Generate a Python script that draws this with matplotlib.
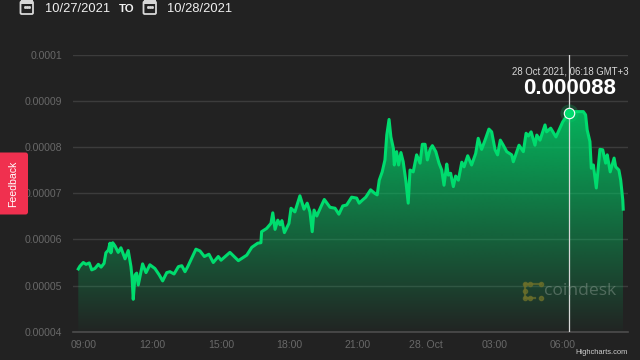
import numpy as np
import matplotlib
matplotlib.use("Agg")
import matplotlib.pyplot as plt
from matplotlib.patches import FancyBboxPatch, Rectangle
from matplotlib.colors import LinearSegmentedColormap

plt.rcParams['font.family'] = ['Liberation Sans', 'DejaVu Sans']

# hours after 09:00 on 27 Oct 2021
hours = [-0.25,-0.18,-0.03,0.09,0.23,0.34,0.48,0.63,0.75,0.88,0.96,1.07,1.14,1.18,1.26,1.36,1.50,1.62,1.80,1.94,
 2.06,2.11,2.16,2.24,2.31,2.38,2.57,2.72,2.89,3.11,3.30,3.45,3.63,3.77,3.95,4.14,4.29,4.43,4.55,4.72,
 4.91,5.09,5.28,5.48,5.67,5.89,6.01,6.40,6.77,7.14,7.36,7.62,7.76,7.79,8.01,8.20,8.28,8.38,8.50,8.60,
 8.68,8.79,8.99,9.08,9.25,9.47,9.65,9.79,9.91,10.01,10.09,10.21,10.38,10.54,10.79,11.01,11.18,11.35,11.52,11.74,
 11.96,12.07,12.22,12.36,12.57,12.76,12.86,12.95,13.08,13.20,13.28,13.38,13.46,13.57,13.61,13.71,13.80,13.90,14.00,14.12,
 14.22,14.30,14.44,14.59,14.74,14.84,14.96,15.06,15.18,15.28,15.43,15.57,15.69,15.79,15.91,15.98,16.08,16.20,16.30,16.42,
 16.57,16.67,16.83,17.00,17.18,17.29,17.44,17.59,17.76,17.88,18.03,18.14,18.26,18.39,18.54,18.76,18.83,19.08,19.27,19.39,
 19.49,19.61,19.78,19.86,20.00,20.22,20.29,20.47,20.70,21.00,21.10,21.27,21.40,21.54,21.75,21.90,22.00,22.07,22.19,22.25,
 22.34,22.47,22.63,22.75,22.88,22.95,23.08,23.25,23.32,23.46,23.54,23.63,23.65]
# price, in units of 0.00001
price = [5.36,5.42,5.50,5.46,5.49,5.34,5.37,5.46,5.40,5.48,5.71,5.77,5.92,5.71,5.93,5.86,5.72,5.82,5.58,5.76,
 5.41,5.16,4.70,5.23,5.27,5.01,5.47,5.28,5.45,5.37,5.23,5.10,5.28,5.30,5.25,5.41,5.43,5.30,5.41,5.59,
 5.79,5.75,5.63,5.68,5.50,5.63,5.55,5.72,5.54,5.66,5.83,5.92,5.93,6.17,6.24,6.35,6.58,6.22,6.42,6.32,
 6.41,6.15,6.35,6.68,6.60,6.95,6.66,6.79,6.60,6.17,6.64,6.51,6.70,6.87,6.70,6.68,6.55,6.73,6.75,6.92,
 6.90,6.79,6.86,6.92,7.08,7.00,6.97,7.29,7.47,7.73,8.27,8.61,8.23,7.98,7.62,7.91,7.62,7.89,7.69,7.26,
 6.79,7.51,7.47,7.84,7.66,8.07,8.07,7.73,7.96,8.04,7.91,7.66,7.51,7.18,7.64,7.40,7.44,7.15,7.38,7.29,
 7.68,7.58,7.82,7.62,7.87,8.20,7.96,8.16,8.40,8.34,7.95,7.84,8.16,8.05,7.91,7.84,7.69,8.05,7.91,8.31,
 8.25,8.34,8.05,8.27,8.16,8.49,8.34,8.42,8.23,8.56,8.63,8.76,8.69,8.78,8.78,8.78,8.71,8.38,8.13,7.55,
 7.62,7.12,7.96,7.95,7.66,7.84,7.47,7.77,7.58,7.51,7.29,6.86,6.66]

x_ticks = [0, 3, 6, 9, 12, 15, 18, 21]
x_labels = ['09:00', '12:00', '15:00', '18:00', '21:00', '28. Oct', '03:00', '06:00']
y_ticks = [4, 5, 6, 7, 8, 9, 10]
y_labels = ['0.00004', '0.00005', '0.00006', '0.00007', '0.00008', '0.00009', '0.0001']
cursor_hour = 21.27
cursor_price = 8.76

BG = '#222222'
GREEN = '#00DC6E'
W, H = 640, 360

fig = plt.figure(figsize=(6.4, 3.6), dpi=100, facecolor=BG)
L, R, T, B = 73, 628, 55.5, 331.5
ax = fig.add_axes([L/W, 1-B/H, (R-L)/W, (B-T)/H], facecolor=BG)
for s in ax.spines.values():
    s.set_visible(False)
ax.spines['bottom'].set_visible(True)
ax.spines['bottom'].set_color('#4d4d4d')
ax.spines['bottom'].set_linewidth(1.2)
ax.grid(axis='y', color='#3c3c3c', lw=1.0, zorder=1)
ax.set_axisbelow(True)
ax.set_yticks(y_ticks, y_labels)
ax.set_xticks(x_ticks, x_labels)
ax.tick_params(axis='both', length=0, colors='#686868', labelsize=7.6)
ax.tick_params(axis='y', pad=8)
ax.tick_params(axis='x', pad=6)

# gradient fill under the line
cm = LinearSegmentedColormap.from_list('g', [(0, 0.80, 0.40, 0.02), (0, 0.80, 0.40, 0.86)])
grad = np.linspace(0, 1, 256).reshape(-1, 1)
im = ax.imshow(grad, origin='lower', aspect='auto', cmap=cm, zorder=2,
               extent=[hours[0], hours[-1], 4, max(price)], interpolation='bilinear')
clip = plt.Polygon(np.column_stack([hours + [hours[-1], hours[0]], price + [4, 4]]),
                   transform=ax.transData, fc='none', ec='none')
ax.add_patch(clip)
im.set_clip_path(clip)
ax.set_xlim(-0.482, 23.86)
ax.set_ylim(4, 10)

ax.plot(hours, price, color=GREEN, lw=2.2, zorder=3, solid_joinstyle='round')

# crosshair + highlighted point
ax.axvline(cursor_hour, color='#d8d8d8', lw=0.9, zorder=4)
ax.plot([cursor_hour], [cursor_price], 'o', ms=13, color=GREEN, alpha=0.22, mew=0, zorder=5)
ax.plot([cursor_hour], [cursor_price], 'o', ms=7.5, mfc=GREEN, mec='white', mew=0.8, zorder=6)

# overlay in pixel coordinates for page furniture
ov = fig.add_axes([0, 0, 1, 1], facecolor='none')
ov.set_xlim(0, W)
ov.set_ylim(H, 0)
ov.axis('off')

def calendar(x):
    ov.add_patch(FancyBboxPatch((x, 1.5), 12.5, 12.5, boxstyle='round,pad=0,rounding_size=1.2',
                                fc='none', ec='#d8d8d8', lw=1.3))
    ov.add_patch(Rectangle((x, -1), 12.5, 4.5, fc='#d8d8d8', ec='none'))
    ov.plot([x+4, x+6.2, x+8.4], [6.5, 6.5, 6.5], ls='none', marker='s', ms=1.0, color='#d8d8d8')

calendar(20.5)
calendar(143.5)
ov.text(44.5, 8.5, '10/27/2021', color='#f0f0f0', fontsize=9.3, va='center', ha='left')
ov.text(119, 9.5, 'TO', color='#f0f0f0', fontsize=8.2, fontweight='bold', va='center', ha='left')
ov.text(167.5, 8.5, '10/28/2021', color='#f0f0f0', fontsize=9.3, va='center', ha='left')

# tooltip
ov.text(570.5, 71.5, '28 Oct 2021, 06:18 GMT+3', color='#d8d8d8', fontsize=6.95, ha='center', va='center')
ov.text(570, 88.5, '0.000088', color='white', fontsize=16, fontweight='bold', ha='center', va='center')

# feedback tab
ov.add_patch(FancyBboxPatch((-6, 152.5), 34, 62, boxstyle='round,pad=0,rounding_size=2.5',
                            fc='#F0304F', ec='none', zorder=8))
ov.text(13, 183.5, 'Feedback', color='white', fontsize=7.6, rotation=90, ha='center', va='center', zorder=9)

# watermark
ov.text(544, 291, 'coindesk', color='#9aa89f', alpha=0.42, fontsize=12.6, ha='left', va='center',
        family=['Open Sans', 'DejaVu Sans'])
logo = '#6b6f2a'
lx = [525, 525, 525, 530, 541, 530, 541]
ly = [284, 291, 298, 284, 284, 298, 298]
ov.plot(lx, ly, ls='none', marker='o', ms=3.0, color=logo, alpha=0.75)
ov.plot([525, 541], [284, 284], color=logo, lw=1.6, alpha=0.75)
ov.plot([525, 535], [298, 298], color=logo, lw=1.6, alpha=0.75)
ov.plot([525, 525], [284, 298], color=logo, lw=1.6, alpha=0.75)

ov.text(628, 353, 'Highcharts.com', color='#cfcfcf', fontsize=5.4, ha='right', va='center')

fig.savefig('out.png', dpi=100, facecolor=BG)
